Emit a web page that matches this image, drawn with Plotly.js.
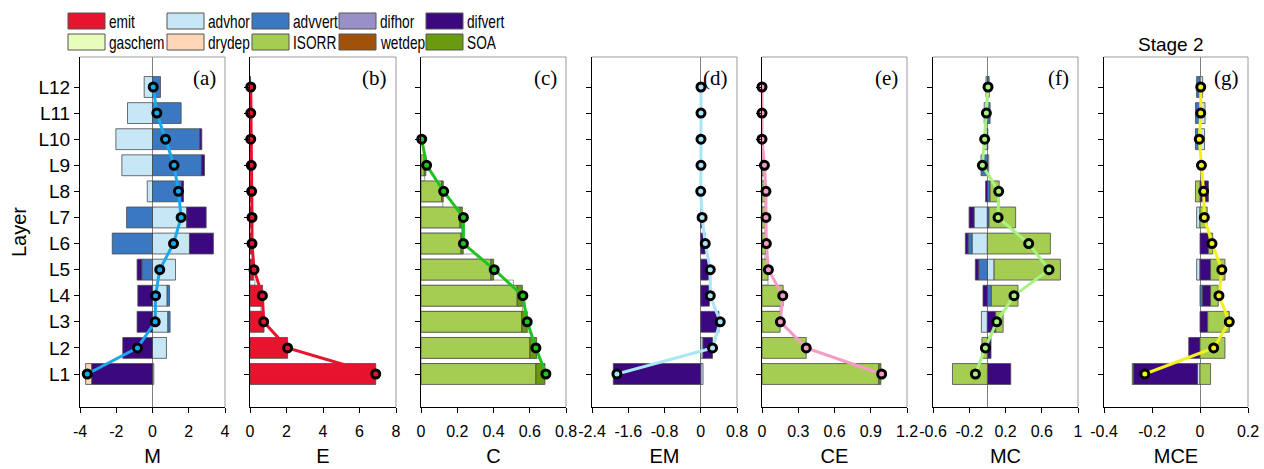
<!DOCTYPE html>
<html><head><meta charset="utf-8">
<script src="https://cdn.plot.ly/plotly-3.0.1.min.js"></script>
<style>body{margin:0;background:#fff}#chart{width:1264px;height:469px}</style>
</head><body><div id="chart"></div>
<script>
// ---------- DATA ----------
const layers = [1,2,3,4,5,6,7,8,9,10,11,12];
const layerLabels = ['L1','L2','L3','L4','L5','L6','L7','L8','L9','L10','L11','L12'];
const legendNames = ['emit','advhor','advvert','difhor','difvert','gaschem','drydep','ISORR','wetdep','SOA'];
const panelTitles = ['M','E','C','EM','CE','MC','MCE'];
const panelLabels = ['(a)','(b)','(c)','(d)','(e)','(f)','(g)'];

// (a) M
const M_advhor  = [0.07,0.77,0.85,0.81,1.27,2.04,1.89,-0.29,-1.69,-2.02,-1.38,-0.46];
const M_advvert = [0,0,0.12,0.13,-0.59,-2.22,-1.43,1.60,2.70,2.61,1.58,0.44];
const M_difvert = [-3.36,-1.64,-0.85,-0.81,-0.26,1.32,1.07,0.11,0.17,0.11,0,0];
const M_drydep  = [-0.33,0,0,0,0,0,0,0,0,0,0,0];
const M_net     = [-3.60,-0.83,0.15,0.17,0.40,1.16,1.58,1.43,1.19,0.72,0.24,0.04];
// (b) E
const E_emit    = [6.89,2.06,0.77,0.69,0.20,0.10,0.09,0.08,0.06,0.03,0.03,0.03];
const E_net     = [6.89,2.06,0.75,0.68,0.22,0.11,0.11,0.09,0.07,0.04,0.04,0.04];
const E_gapPos  = [3.5,4.5];
const E_gapVal  = [0.60,0.27];
// (c) C
const C_ISORR   = [0.634,0.601,0.556,0.531,0.386,0.221,0.215,0.114,0.018,0,0,0];
const C_SOA     = [0.050,0.037,0.030,0.028,0.015,0.012,0.013,0.009,0.009,0,0,0];
const C_net     = [0.689,0.634,0.586,0.562,0.404,0.234,0.234,0.125,0.031,0.004,null,null];
const C_gapPos  = [1.5,2.5,3.5,4.5,5.5,6.5,7.5,8.5];
const C_gapVal  = [0.66,0.61,0.56,0.51,0.31,0.225,0.12,0.02];
// (d) EM
const EM_advhor  = [0.05,0.05,0,0,0,0,0,0,0,0,0,0];
const EM_difvert = [-1.93,0.21,0.40,0.19,0.17,0.10,0.03,0,0,0,0,0];
const EM_net     = [-1.85,0.26,0.43,0.21,0.21,0.10,0.03,0.0,0.005,0.005,0.005,0.005];
// (e) CE
const CE_ISORR  = [0.967,0.366,0.150,0.175,0.050,0.030,0.028,0.028,0.020,0,0,0];
const CE_SOA    = [0.017,0,0,0,0,0,0,0,0,0,0,0];
const CE_net    = [0.99,0.366,0.152,0.172,0.053,0.036,0.033,0.033,0.020,0,0,0];
const CE_gapPos = [3.5,4.5,5.5,6.5,7.5,8.5];
const CE_gapVal = [0.15,0.05,0.025,0.025,0.025,0.02];
// (f) MC
const MC_advhor  = [0,0,-0.066,0,0.074,-0.169,-0.147,0,0.015,-0.03,-0.035,-0.015];
const MC_advvert = [0,0,0,0.044,-0.096,-0.044,0.018,0.03,-0.07,0,0.03,0.02];
const MC_difvert = [0.258,0.04,0.092,-0.048,-0.037,-0.03,-0.055,-0.02,0,0,0,0];
const MC_ISORR   = [-0.385,-0.06,0.082,0.294,0.732,0.695,0.294,0.10,0,0.005,0,0];
const MC_net     = [-0.132,-0.022,0.103,0.294,0.68,0.456,0.118,0.125,-0.055,-0.03,-0.011,0.007];
// (g) MCE
const MCE_advhor  = [-0.011,0,0,0,-0.014,0,-0.014,0,0,0.019,0.021,0.011];
const MCE_advvert = [0,0,0,0.011,0,0,0,0,0,-0.019,-0.019,-0.014];
const MCE_difvert = [-0.266,-0.047,0.032,0.033,0.044,0.035,0,0.035,0,0,0,0];
const MCE_ISORR   = [0.044,0.104,0.090,0.032,0.060,0.018,0.030,-0.019,0,0,0,0];
const MCE_SOA     = [-0.005,0,0,0,0,0,0,0,0,0,0,0];
const MCE_net     = [-0.23,0.057,0.122,0.079,0.091,0.05,0.018,0.015,0.006,-0.003,0.003,0.003];

// ---------- STYLE / LAYOUT ----------
const W = 1264, H = 469;
const colorOf = {emit:'#E8132D', advhor:'#C6E7F6', advvert:'#3A79C1', difhor:'#9A90C8', difvert:'#3C0880',
  gaschem:'#E8FDBB', drydep:'#FDD6B5', ISORR:'#A4CD52', wetdep:'#A0520B', SOA:'#6A9A0F'};
const P = [
  {x0:80,  x1:225,  range:[-4,4],     tv:[-4,-2,0,2,4],             tt:['-4','-2','0','2','4'], zero:true,  lc:'#1AA7EC'},
  {x0:250, x1:396,  range:[0,8],      tv:[0,2,4,6,8],               tt:['0','2','4','6','8'], zero:false, lc:'#E8132D'},
  {x0:421, x1:566,  range:[0,0.8],    tv:[0,0.2,0.4,0.6,0.8],       tt:['0','0.2','0.4','0.6','0.8'], zero:false, lc:'#1FC21F'},
  {x0:592, x1:737,  range:[-2.4,0.8], tv:[-2.4,-1.6,-0.8,0,0.8],    tt:['-2.4','-1.6','-0.8','0','0.8'], zero:true, lc:'#A8E6F8'},
  {x0:762, x1:907,  range:[0,1.2],    tv:[0,0.3,0.6,0.9,1.2],       tt:['0','0.3','0.6','0.9','1.2'], zero:false, lc:'#F59BC4'},
  {x0:933, x1:1078, range:[-0.6,1],   tv:[-0.6,-0.2,0.2,0.6,1],     tt:['-0.6','-0.2','0.2','0.6','1'], zero:true, lc:'#A8F27E'},
  {x0:1104,x1:1248, range:[-0.4,0.2], tv:[-0.4,-0.2,0,0.2],         tt:['-0.4','-0.2','0','0.2'], zero:true, lc:'#F4F01E'}
];
const yTop = 57, yBot = 407;
const sans = 'Liberation Sans, Arial, sans-serif';
const serif = 'Liberation Serif, Times New Roman, serif';

const panelBars = [
  [['advhor',M_advhor],['advvert',M_advvert],['difvert',M_difvert],['drydep',M_drydep]],
  [['emit',E_emit]],
  [['ISORR',C_ISORR],['SOA',C_SOA]],
  [['advhor',EM_advhor],['difvert',EM_difvert]],
  [['ISORR',CE_ISORR],['SOA',CE_SOA]],
  [['advhor',MC_advhor],['advvert',MC_advvert],['difvert',MC_difvert],['ISORR',MC_ISORR]],
  [['advhor',MCE_advhor],['advvert',MCE_advvert],['difvert',MCE_difvert],['ISORR',MCE_ISORR],['SOA',MCE_SOA]]
];
const panelNet = [M_net,E_net,C_net,EM_net,CE_net,MC_net,MCE_net];
const panelGaps = [null,[E_gapPos,E_gapVal],[C_gapPos,C_gapVal],null,[CE_gapPos,CE_gapVal],null,null];
const nz = v => v.map(d => (d === 0 ? null : d)); // a zero contribution draws no bar

const traces = [];
const layout = {width:W, height:H, margin:{l:0,r:0,t:0,b:0}, paper_bgcolor:'#fff', plot_bgcolor:'#fff',
  barmode:'relative', showlegend:false, shapes:[], annotations:[], font:{family:sans, color:'#000'}};

P.forEach((p,i)=>{
  const xa = 'x'+(i?i+1:''), ya = 'y'+(i?i+1:'');
  const xk = 'xaxis'+(i?i+1:''), yk = 'yaxis'+(i?i+1:'');
  if(panelGaps[i]){
    traces.push({type:'bar', orientation:'h', x:panelGaps[i][1], y:panelGaps[i][0], width:0.2, xaxis:xa, yaxis:ya,
      marker:{color:'#ffffff', line:{color:'#8a8a8a', width:0.8}}, hoverinfo:'skip', name:'gap'});
  }
  panelBars[i].forEach(([name, vals])=>{
    traces.push({type:'bar', orientation:'h', name:name, x:nz(vals), y:layers, width:0.8, xaxis:xa, yaxis:ya,
      marker:{color:colorOf[name], line:{color:'#4a4a4a', width:0.8}}});
  });
  traces.push({type:'scatter', mode:'lines+markers', name:panelTitles[i], x:panelNet[i], y:layers, xaxis:xa, yaxis:ya,
    line:{color:p.lc, width:3}, marker:{symbol:'circle', size:8, color:p.lc, line:{color:'#000', width:3}}, cliponaxis:false});

  layout[xk] = {domain:[p.x0/W, p.x1/W], anchor:ya, range:p.range, tickmode:'array', tickvals:p.tv, ticktext:p.tt,
    showline:true, linecolor:'#000', linewidth:1, ticks:'outside', ticklen:5, tickcolor:'#000', showgrid:false,
    zeroline:p.zero, zerolinecolor:'#808080', zerolinewidth:1, tickfont:{family:sans, size:16, color:'#000'},
    ticklabelstandoff:5, fixedrange:true,
    title:{text:panelTitles[i], font:{family:sans, size:20, color:'#000'}, standoff:9}};
  layout[yk] = {domain:[(H-yBot)/H, (H-yTop)/H], anchor:xa, range:[-0.265,13.15], tickmode:'array', tickvals:layers,
    ticktext:layerLabels, showticklabels:i===0, showline:true, linecolor:'#000', linewidth:1, ticks:'outside', ticklen:5,
    tickcolor:'#000', showgrid:false, zeroline:false, tickfont:{family:sans, size:19, color:'#000'}, fixedrange:true,
    title: i===0 ? {text:'Layer', font:{family:sans, size:20, color:'#000'}, standoff:6} : {text:''}};
  // top & right frame (grey)
  layout.shapes.push({type:'line', xref:'paper', yref:'paper', x0:p.x0/W, x1:p.x1/W, y0:(H-yTop)/H, y1:(H-yTop)/H, line:{color:'#9a9a9a', width:1}});
  layout.shapes.push({type:'line', xref:'paper', yref:'paper', x0:p.x1/W, x1:p.x1/W, y0:(H-yTop)/H, y1:(H-yBot)/H, line:{color:'#9a9a9a', width:1}});
  layout.annotations.push({xref:'paper', yref:'paper', x:(p.x1-7)/W, y:(H-78)/H, xanchor:'right', yanchor:'middle',
    text:panelLabels[i], showarrow:false, font:{family:serif, size:21, color:'#000'}});
});
layout.annotations.push({xref:'paper', yref:'paper', x:1171/W, y:(H-45)/H, xanchor:'center', yanchor:'middle',
  text:'Stage 2', showarrow:false, font:{family:sans, size:19, color:'#000'}});

// custom legend (2 rows x 5 columns)
const legColX = [68,167,252,339,426];
const legRowY = [13,34];
legendNames.forEach((n,k)=>{
  const r = Math.floor(k/5), c = k%5;
  const x0 = legColX[c], y0 = legRowY[r];
  layout.shapes.push({type:'rect', xref:'paper', yref:'paper', x0:x0/W, x1:(x0+37)/W, y0:(H-y0)/H, y1:(H-y0-16)/H,
    fillcolor:colorOf[n], line:{color:'#555', width:1}});
  layout.annotations.push({xref:'paper', yref:'paper', x:(x0+39)/W, y:(H-y0-8)/H, xanchor:'left', yanchor:'middle',
    text:n, showarrow:false, font:{family:sans, size:19, color:'#000'}});
});

Plotly.newPlot('chart', traces, layout, {displayModeBar:false, staticPlot:true}).then(()=>{
  // legend labels in the reference are set in a condensed face: compress them horizontally
  document.querySelectorAll('#chart .annotation-text').forEach(t=>{
    if(!legendNames.includes(t.textContent)) return;
    const L = t.getComputedTextLength();
    const x = parseFloat(t.getAttribute('x')) || 0;
    const a = t.getAttribute('text-anchor');
    const left = a === 'middle' ? x - L/2 : (a === 'end' ? x - L : x);
    t.setAttribute('text-anchor','start');
    t.setAttribute('x', left.toFixed(2));
    t.setAttribute('textLength', (L*0.72).toFixed(1));
    t.setAttribute('lengthAdjust','spacingAndGlyphs');
  });
});
</script></body></html>
